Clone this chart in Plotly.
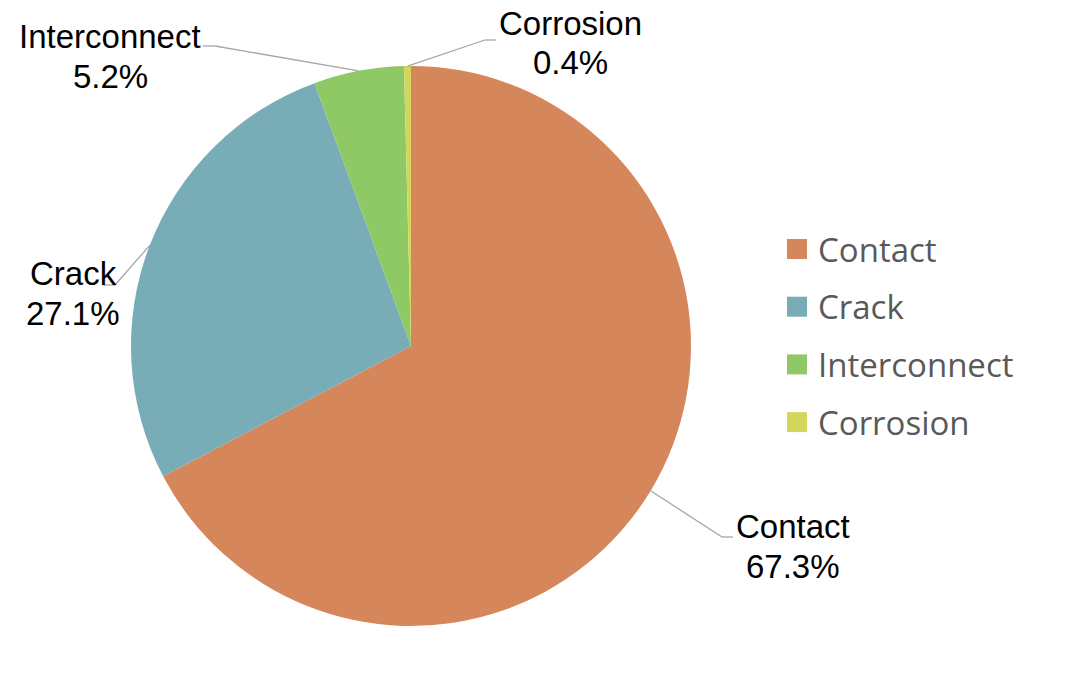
import math
import plotly.graph_objects as go

categories = ["Contact", "Crack", "Interconnect", "Corrosion"]
shares = [67.3, 27.1, 5.2, 0.4]
colors = ["#D6865B", "#78ADB8", "#8FC965", "#D4D65B"]

W, H = 1084, 692
OFF = 8  # page body margin
CX, CY, R = 411, 346, 280  # pie centre / radius in pixels (page coords)

def px(x):
    return (x - OFF) / W

def py(y):
    return 1 - (y - OFF) / H

fig = go.Figure(go.Pie(
    labels=categories, values=shares, sort=False, direction="clockwise",
    rotation=0, textinfo="none", showlegend=False,
    marker=dict(colors=colors, line=dict(width=0)),
    domain=dict(x=[px(CX - R), px(CX + R)], y=[py(CY + R), py(CY - R)]),
))

# label layout: (text centre x, name y, pct y, elbow x, elbow y, stub end x)
label_layout = {
    "Contact": (793, 526, 566, 722, 537, 733),
    "Crack": (73, 273, 313, 115, 285, 103),
    "Interconnect": (110, 37, 76, 215, 46, 203),
    "Corrosion": (570, 23, 62, 485, 40, 496),
}

shapes = []
annotations = []
total = sum(shares)
cum = 0.0
for cat, v in zip(categories, shares):
    mid = (cum + v / 2) / total * 2 * math.pi
    cum += v
    ex = CX + R * math.sin(mid)
    ey = CY - R * math.cos(mid)
    tx, ny, pcty, bx, by, sx = label_layout[cat]
    line = dict(color="#A6A6A6", width=1.3)
    shapes.append(dict(type="line", xref="paper", yref="paper",
                       x0=px(ex), y0=py(ey), x1=px(bx), y1=py(by), line=line))
    shapes.append(dict(type="line", xref="paper", yref="paper",
                       x0=px(bx), y0=py(by), x1=px(sx), y1=py(by), line=line))
    font = dict(family="Liberation Sans, Arial, sans-serif", size=33, color="#000000")
    annotations.append(dict(text=cat, x=px(tx), y=py(ny), xref="paper", yref="paper",
                            showarrow=False, xanchor="center", yanchor="middle", font=font))
    annotations.append(dict(text=f"{v:.1f}%", x=px(tx), y=py(pcty), xref="paper", yref="paper",
                            showarrow=False, xanchor="center", yanchor="middle", font=font))

# manual legend
leg_x, leg_y0, leg_dy, sq = 787, 249, 57.7, 20
for i, (cat, col) in enumerate(zip(categories, colors)):
    yc = leg_y0 + i * leg_dy
    shapes.append(dict(type="rect", xref="paper", yref="paper",
                       x0=px(leg_x), x1=px(leg_x + sq), y0=py(yc + sq / 2), y1=py(yc - sq / 2),
                       fillcolor=col, line=dict(width=0)))
    annotations.append(dict(text=cat, x=px(leg_x + 29), y=py(yc), xref="paper", yref="paper",
                            showarrow=False, xanchor="left", yanchor="middle",
                            font=dict(family="Open Sans, sans-serif", size=33, color="#595959")))

fig.update_layout(
    width=W, height=H, margin=dict(l=0, r=0, t=0, b=0),
    paper_bgcolor="white", plot_bgcolor="white",
    shapes=shapes, annotations=annotations, showlegend=False,
)

fig.write_html("out.html")
